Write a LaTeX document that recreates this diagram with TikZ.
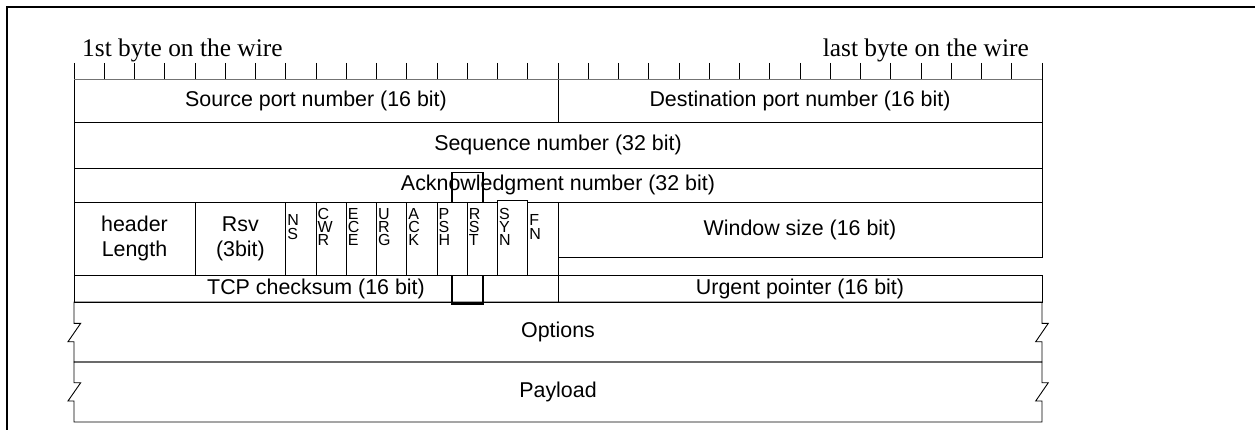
\documentclass[tikz,border=0pt]{standalone}
\usepackage{fontspec}
\setmainfont{Liberation Serif}
\newfontfamily\arialf{Liberation Sans}
\begin{document}
\begin{tikzpicture}[x=1pt,y=-1pt,
  cell/.style={draw=black, line width=0.9pt, fill=white, inner sep=0pt, outer sep=0pt,
    font=\arialf\fontsize{21.4pt}{25pt}\selectfont, align=center},
  span/.style args={#1,#2,#3,#4}{minimum width={(#3-#1)*1pt}, minimum height={(#4-#2)*1pt},
    at={({(#1+#3)/2},{(#2+#4)/2})}},
  txt/.style={inner sep=0pt, font=\arialf\fontsize{21.4pt}{25pt}\selectfont},
  flagtxt/.style={inner sep=0pt, anchor=west, align=left,
    font=\arialf\fontsize{16pt}{13.3pt}\selectfont},
  wire/.style={inner sep=0pt, font=\fontsize{25.4pt}{30pt}\selectfont},
  frameline/.style={line width=2pt, black},
  border/.style={line width=0.9pt, black},
  markbox/.style={line width=1.5pt, black},
  tick/.style={line width=0.9pt, black},
  ruler/.style={line width=0.9pt, black!55}]
\useasboundingbox (0,0) rectangle (1255,430);
% outer frame
\draw[frameline] (7,430) -- (7,7) -- (1255,7);
% captions
\node[wire, anchor=base west] (first) at (82,56.7) {1st byte on the wire};
\node[wire, anchor=base east] (last) at (1029,56.7) {last byte on the wire};
% rows
\node[cell, span={74,79,558,122.5}] (src) {Source port number (16 bit)};
\node[cell, span={558,79,1042,122.5}] (dst) {Destination port number (16 bit)};
\node[cell, span={74,122.5,1042,168}] (seq) {Sequence number (32 bit)};
\node[cell, span={74,168,1042,202}] (ack) {Acknowledgment number (32 bit)};
\node[cell, span={74,275,558,302}] (chk) {TCP checksum (16 bit)};
\node[cell, span={558,275,1042,302}] (urg) {Urgent pointer (16 bit)};
% marker box (partly hidden by the flag cells)
\draw[markbox] (452,172.5) rectangle (483,304);
% header length, reserved
\node[cell, span={74,202,195,275}] (hlen) {header\\Length};
\node[cell, span={195,202,285.75,275}] (rsv) {Rsv\\(3bit)};
% flags
\foreach \i/\t in {0/{N\\S},1/{C\\W\\R},2/{E\\C\\E},3/{U\\R\\G},4/{A\\C\\K},5/{P\\S\\H},6/{R\\S\\T},7/{S\\Y\\N},8/{F\\N}}{
  \pgfmathsetmacro{\xl}{285.75+30.25*\i}
  \pgfmathsetmacro{\xr}{285.75+30.25*(\i+1)}
  \ifnum\i=7
    \node[cell, span={\xl,200.5,\xr,275}] (f\i) {};
  \else
    \node[cell, span={\xl,202,\xr,275}] (f\i) {};
  \fi
  \node[flagtxt] (ft\i) at ([xshift=1.5pt]f\i.west |- 0,227) {\t};
}
% window size
\node[cell, span={558,202,1042,257.3}] (win) {Window size (16 bit)};
% ruler
\draw[ruler] (src.north west) -- (dst.north east);
\foreach \k in {0,...,32}{
  \draw[tick] ({74+30.25*\k},63) -- ({74+30.25*\k},79);
}
% options and payload with break marks
\draw[border] (74,302) -- (1042,302) -- (1042,323.3) -- (1048.3,323.3) -- (1035.7,341.7)
  -- (1042,341.7) -- (1042,362) -- (74,362) -- (74,341.7) -- (68,341.7) -- (80.7,323.3)
  -- (74,323.3) -- cycle;
\draw[border] (74,362) -- (1042,362) -- (1042,382.7) -- (1048.3,382.7) -- (1035.7,401)
  -- (1042,401) -- (1042,422) -- (74,422) -- (74,401) -- (68,401) -- (80.7,382.7)
  -- (74,382.7) -- cycle;
\node[txt] (opt) at (558,332) {Options};
\node[txt] (pay) at (558,392) {Payload};
\end{tikzpicture}
\end{document}
